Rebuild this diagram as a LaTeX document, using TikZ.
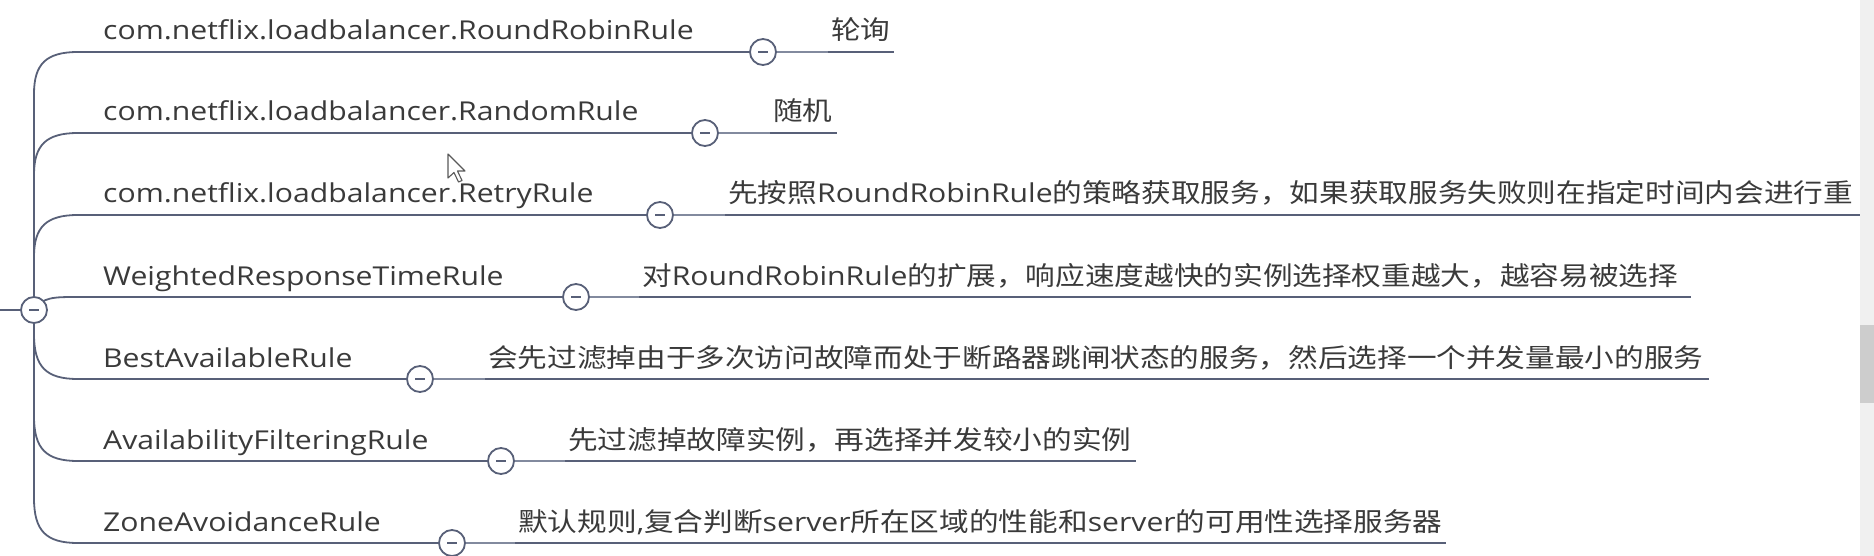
\documentclass[tikz,border=0pt]{standalone}
\usepackage{fontspec}
\setmainfont{Open Sans}[FakeStretch=1.16]
\newfontfamily\cjk{Noto Sans CJK SC}[FakeStretch=1.14]
\definecolor{lineC}{RGB}{88,96,120}
\definecolor{connC}{RGB}{130,138,158}
\definecolor{txtC}{RGB}{58,58,58}
\definecolor{sbbg}{RGB}{240,240,240}
\definecolor{sbthumb}{RGB}{205,205,205}
\pgfdeclarelayer{background}
\pgfsetlayers{background,main}
\begin{document}
\begin{tikzpicture}[x=1pt,y=-1pt,
  lbl/.style={anchor=base west, inner sep=0pt, text=txtC, font=\fontsize{26pt}{30pt}\selectfont},
  trunk/.style={draw=lineC, line width=1.8pt},
  uline/.style={draw=lineC, line width=2pt},
  conn/.style={draw=connC, line width=1.6pt},
  toggle/.style={circle, draw=lineC, line width=1.8pt, fill=white, minimum size=26pt, inner sep=0pt,
    path picture={\draw[lineC, line width=2pt] ([xshift=-5pt]path picture bounding box.center) -- ([xshift=5pt]path picture bounding box.center);}}
]
\useasboundingbox (0,0) rectangle (1874,556);
\clip (0,0) rectangle (1874,556);

% root toggle
\node[toggle] (r) at (34,310) {};
\coordinate (lft) at (0,310);

% toggles
\node[toggle] (t1) at (763,52) {};
\node[toggle] (t2) at (705,133) {};
\node[toggle] (t3) at (660,215) {};
\node[toggle] (t4) at (576,297) {};
\node[toggle] (t5) at (420,379) {};
\node[toggle] (t6) at (501,461) {};
\node[toggle] (t7) at (452,543) {};

% branch labels
\node[lbl] (b1) at (103,40) {com.netflix.loadbalancer.RoundRobinRule};
\node[lbl] (b2) at (103,121) {com.netflix.loadbalancer.RandomRule};
\node[lbl] (b3) at (103,203) {com.netflix.loadbalancer.RetryRule};
\node[lbl] (b4) at (103,285) {WeightedResponseTimeRule};
\node[lbl] (b5) at (103,367) {BestAvailableRule};
\node[lbl] (b6) at (103,449) {AvailabilityFilteringRule};
\node[lbl] (b7) at (103,531) {ZoneAvoidanceRule};

% child labels
\node[lbl] (c1) at (831,40) {\cjk 轮询};
\node[lbl] (c2) at (773,121) {\cjk 随机};
\node[lbl] (c3) at (728,203) {{\cjk 先按照}RoundRobinRule{\cjk 的策略获取服务，如果获取服务失败则在指定时间内会进行重}};
\node[lbl] (c4) at (642,285) {{\cjk 对}RoundRobinRule{\cjk 的扩展，响应速度越快的实例选择权重越大，越容易被选择}};
\node[lbl] (c5) at (488,367) {\cjk 会先过滤掉由于多次访问故障而处于断路器跳闸状态的服务，然后选择一个并发量最小的服务};
\node[lbl] (c6) at (568,449) {\cjk 先过滤掉故障实例，再选择并发较小的实例};
\node[lbl] (c7) at (518,531) {{\cjk 默认规则},{\cjk 复合判断}server{\cjk 所在区域的性能和}server{\cjk 的可用性选择服务器}};

% coordinates
\coordinate (s1) at (98,52);  \coordinate (u1) at (828,52);  \coordinate (e1) at (894,52);
\coordinate (s2) at (98,133); \coordinate (u2) at (770,133); \coordinate (e2) at (837,133);
\coordinate (s3) at (98,215); \coordinate (u3) at (725,215); \coordinate (e3) at (1862,215);
\coordinate (s4) at (98,297); \coordinate (u4) at (639,297); \coordinate (e4) at (1691,297);
\coordinate (s5) at (98,379); \coordinate (u5) at (485,379); \coordinate (e5) at (1709,379);
\coordinate (s6) at (98,461); \coordinate (u6) at (565,461); \coordinate (e6) at (1136,461);
\coordinate (s7) at (98,543); \coordinate (u7) at (515,543); \coordinate (e7) at (1446,543);

\begin{pgfonlayer}{background}
\draw[trunk] (lft) -- (r);
\draw[trunk] (r.center) -- (34,94) .. controls (34,64) and (46,52) .. (78,52) -- (s1);
\draw[trunk] (r.center) -- (34,175) .. controls (34,145) and (46,133) .. (78,133) -- (s2);
\draw[trunk] (r.center) -- (34,257) .. controls (34,227) and (46,215) .. (78,215) -- (s3);
\draw[trunk] (r.center) .. controls (43,297) and (53,297) .. (78,297) -- (s4);
\draw[trunk] (r.center) -- (34,334) .. controls (34,367) and (46,379) .. (78,379) -- (s5);
\draw[trunk] (r.center) -- (34,416) .. controls (34,449) and (46,461) .. (78,461) -- (s6);
\draw[trunk] (r.center) -- (34,498) .. controls (34,531) and (46,543) .. (78,543) -- (s7);
\draw[uline] (s1) -- (t1); \draw[uline] (s2) -- (t2); \draw[uline] (s3) -- (t3);
\draw[uline] (s4) -- (t4); \draw[uline] (s5) -- (t5); \draw[uline] (s6) -- (t6);
\draw[uline] (s7) -- (t7);
\draw[conn] (t1) -- (u1); \draw[conn] (t2) -- (u2); \draw[conn] (t3) -- (u3);
\draw[conn] (t4) -- (u4); \draw[conn] (t5) -- (u5); \draw[conn] (t6) -- (u6);
\draw[conn] (t7) -- (u7);
\draw[uline] (u1) -- (e1); \draw[uline] (u2) -- (e2); \draw[uline] (u3) -- (e3);
\draw[uline] (u4) -- (e4); \draw[uline] (u5) -- (e5); \draw[uline] (u6) -- (e6);
\draw[uline] (u7) -- (e7);
\end{pgfonlayer}

% mouse pointer
\draw[draw=black!65, fill=white, line width=1.1pt, line join=round]
  (448,154) -- (448,178) -- (454,172.5) -- (458.5,182) -- (462,180.5) -- (457.5,171) -- (465,171) -- cycle;

% scrollbar
\fill[sbbg] (1860,0) rectangle (1874,556);
\fill[sbthumb] (1860,325) rectangle (1874,403);
\end{tikzpicture}
\end{document}
